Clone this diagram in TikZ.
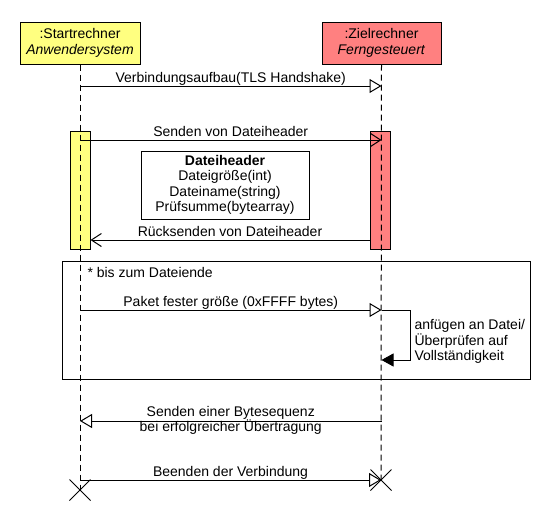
\documentclass[tikz,border=0pt]{standalone}
\usepackage{fontspec}
\setmainfont{Liberation Sans}
\usetikzlibrary{arrows.meta,shapes.misc}
\definecolor{startgelb}{HTML}{FFFF80}
\definecolor{zielrot}{HTML}{FF8080}

\begin{document}
\begin{tikzpicture}[x=1pt,y=-1pt,line width=1pt,
    font=\fontsize{14}{15.5}\selectfont,
    kopf/.style={draw,minimum width=120pt,minimum height=42pt,align=center,inner sep=1pt},
    balken/.style={draw,minimum width=20pt,minimum height=118pt,inner sep=0pt},
    leben/.style={dash pattern=on 6pt off 4pt},
    nachricht/.style={-{Triangle[open,length=12pt,width=14pt]}},
    antwort/.style={-{Straight Barb[length=10pt,width=13pt]}},
    selbst/.style={-{Triangle[length=12pt,width=13pt]}},
    text oben/.style={midway,anchor=base,yshift=4pt,inner sep=0pt},
    ende/.style={draw,cross out,minimum size=20pt,inner sep=0pt}]

  \useasboundingbox (0,0) rectangle (560,530);

  % Lebenslinien
  \node[kopf,fill=startgelb] (start) at (80,43) {:Startrechner\\\textit{Anwendersystem}};
  \node[kopf,fill=zielrot,minimum width=119pt] (ziel) at (381.5,43) {:Zielrechner\\\textit{Ferngesteuert}};
  \node[balken,fill=startgelb] (startbalken) at (80,190) {};
  \node[balken,fill=zielrot] (zielbalken) at (380,190) {};
  \node[ende] (startende) at (80,490) {};
  \node[ende] (zielende) at (381,480) {};
  \draw[leben] (start.south) -- (startende.center);
  \draw[leben] (ziel.south) -- (zielende.center);

  % Dateiheader
  \node[draw,minimum width=168pt,minimum height=68pt,align=center] (header) at (225,185)
    {\textbf{Dateiheader}\\Dateigröße(int)\\Dateiname(string)\\Prüfsumme(bytearray)};

  % Schleife
  \node[draw,minimum width=468pt,minimum height=118pt] (schleife) at (296,320) {};
  \node[anchor=base west,inner sep=0pt] (bedingung) at (87,277) {* bis zum Dateiende};

  % Nachrichten
  \draw[nachricht] (start |- 0,86) -- node[text oben] {Verbindungsaufbau(TLS Handshake)} (ziel |- 0,86);
  \draw[antwort] (start |- 0,140) -- node[text oben] {Senden von Dateiheader} (ziel |- 0,140);
  \draw[antwort] (zielbalken.west |- 0,240) -- node[text oben] {Rücksenden von Dateiheader} (startbalken.east |- 0,240);
  \draw[nachricht] (start |- 0,310) -- node[text oben] {Paket fester größe (0xFFFF bytes)} (ziel |- 0,310);
  \draw[selbst] (ziel |- 0,310) -| (410,360) -- (ziel |- 0,360);
  \node[anchor=north west,align=left,inner sep=0pt] (pruefen) at (414,319)
    {anfügen an Datei/\\Überprüfen auf\\Vollständigkeit};
  \draw[nachricht] (ziel |- 0,421) -- (start |- 0,421)
    node[text oben,yshift=1pt] {Senden einer Bytesequenz}
    node[midway,anchor=base,yshift=-10pt,inner sep=0pt] {bei erfolgreicher Übertragung};
  \draw[nachricht] (start |- 0,480) -- node[text oben] {Beenden der Verbindung} (zielende.center);

\end{tikzpicture}
\end{document}
